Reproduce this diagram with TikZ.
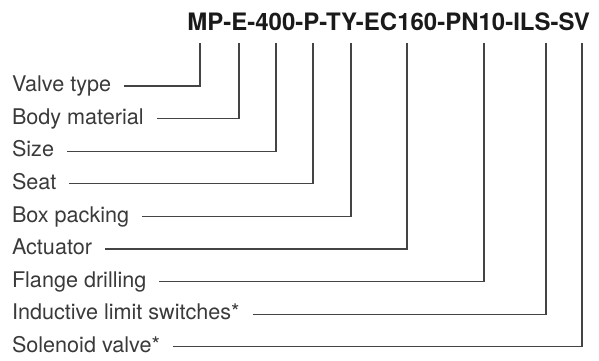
\documentclass[tikz,border=0pt]{standalone}
\usepackage{fontspec}
\setmainfont{TeX Gyre Heros}
\definecolor{txt}{HTML}{3A3A3A}
\definecolor{ln}{HTML}{444444}
\definecolor{ttl}{HTML}{1A1A1A}
\begin{document}
\begin{tikzpicture}[x=0.5pt,y=-0.5pt,
  lbl/.style={anchor=west,inner xsep=0pt,outer xsep=6.5pt,inner ysep=0pt,text height=5.7pt,text depth=0pt,font=\fontsize{10.8pt}{12pt}\selectfont,text=txt},
  conn/.style={draw=ln,line width=0.65pt},
  ttlstyle/.style={anchor=base west,inner sep=0pt,font=\fontsize{12pt}{14pt}\selectfont\bfseries,text=ttl}]
\useasboundingbox (0,0) rectangle (599,360);
\node[ttlstyle] (title) at (187,30) {MP-E-400-P-TY-EC160-PN10-ILS-SV};
\foreach \i/\x/\t in {0/200/Valve type,1/239/Body material,2/276/Size,3/313/Seat,4/351/Box packing,5/407/Actuator,6/484/Flange drilling,7/546/Inductive limit switches*,8/582/Solenoid valve*}{
  \coordinate (t\i) at (\x,43);
  \node[lbl] (l\i) at (-1,86+32.6*\i) {\t};
  \draw[conn] (t\i) |- (l\i.east);
}
\end{tikzpicture}
\end{document}
